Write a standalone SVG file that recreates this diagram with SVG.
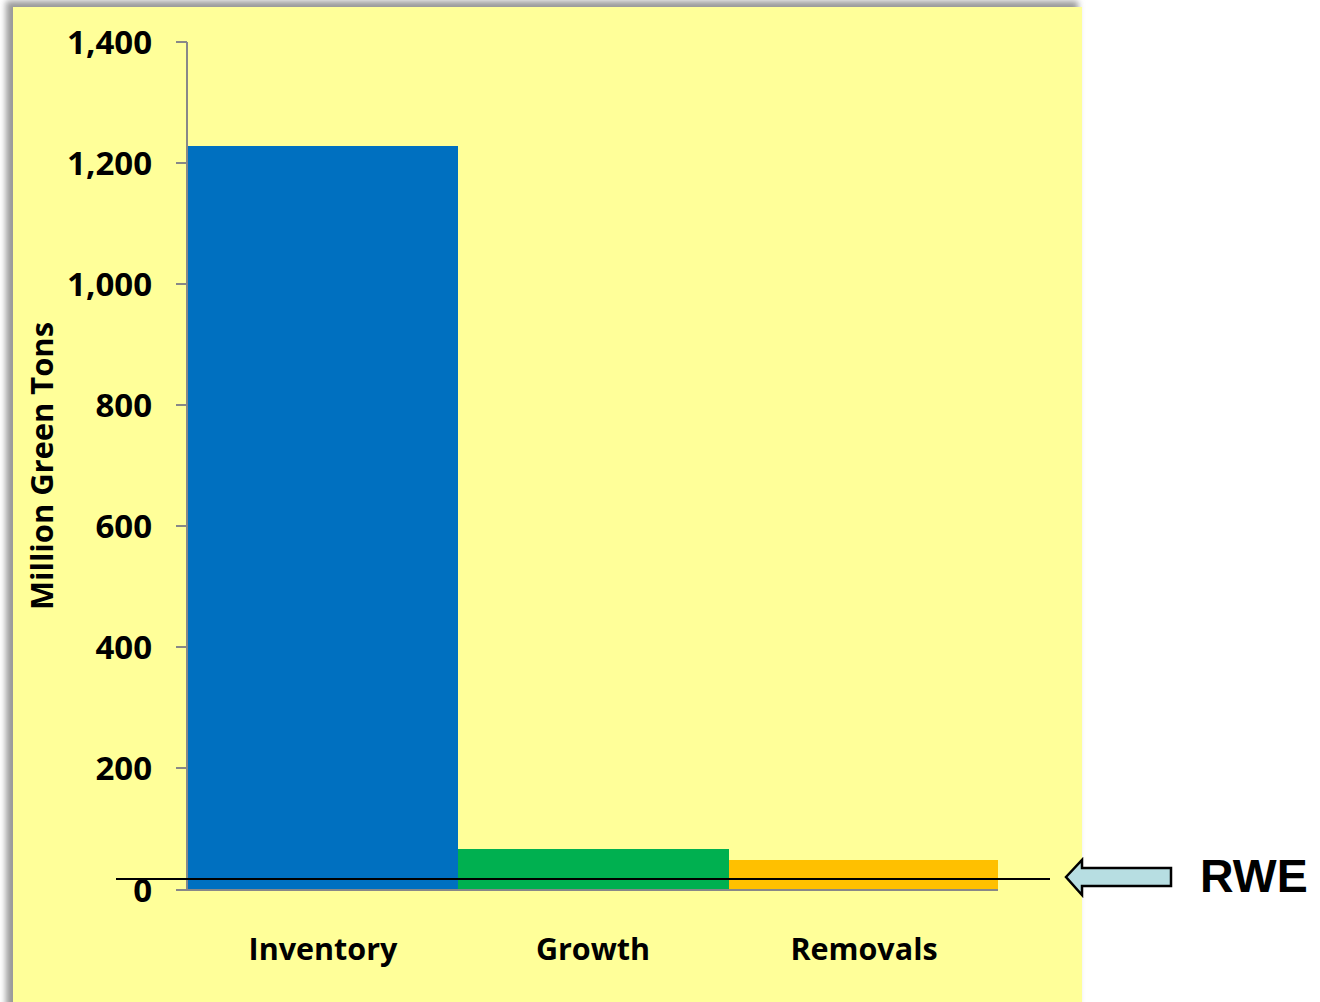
<svg xmlns="http://www.w3.org/2000/svg" width="1320" height="1002" viewBox="0 0 1320 1002">
<defs>
<filter id="sh" x="-5%" y="-5%" width="110%" height="110%"><feGaussianBlur stdDeviation="3"/></filter>
<style>
.t{font-family:"Open Sans","Liberation Sans",sans-serif;font-weight:bold;fill:#000}
.tick{stroke:#888;stroke-width:2}
</style>
</defs>
<rect width="1320" height="1002" fill="#fff"/>
<rect x="6" y="1" width="1072" height="1010" fill="#999" filter="url(#sh)"/>
<rect x="13" y="7" width="1069" height="995" fill="#FFFF99"/>
<g id="bars">
<rect id="inventory" x="188" y="146" width="270" height="744" fill="#0070C0"/>
<rect id="growth" x="458" y="849" width="271" height="41" fill="#00B050"/>
<rect id="removals" x="729" y="860" width="269" height="30" fill="#FFC000"/>
</g>
<g id="axis">
<line class="tick" x1="187" y1="42" x2="187" y2="890"/>
<line class="tick" x1="176" y1="890" x2="998" y2="890"/>
<line class="tick" x1="176" y1="42" x2="187" y2="42"/>
<line class="tick" x1="176" y1="163" x2="187" y2="163"/>
<line class="tick" x1="176" y1="284" x2="187" y2="284"/>
<line class="tick" x1="176" y1="405" x2="187" y2="405"/>
<line class="tick" x1="176" y1="526" x2="187" y2="526"/>
<line class="tick" x1="176" y1="647" x2="187" y2="647"/>
<line class="tick" x1="176" y1="768" x2="187" y2="768"/>
</g>
<g id="ticklabels" class="t" font-size="33" text-anchor="end">
<text x="152" y="54">1,400</text>
<text x="152" y="175">1,200</text>
<text x="152" y="296">1,000</text>
<text x="152" y="417">800</text>
<text x="152" y="538">600</text>
<text x="152" y="659">400</text>
<text x="152" y="780">200</text>
<text x="152" y="902">0</text>
</g>
<g id="catlabels" class="t" font-size="30.5" text-anchor="middle">
<text x="323" y="960">Inventory</text>
<text x="593" y="960">Growth</text>
<text x="864" y="960">Removals</text>
</g>
<text class="t" font-size="30" text-anchor="middle" transform="translate(53,466) rotate(-90)" textLength="288" lengthAdjust="spacingAndGlyphs">Million Green Tons</text>
<g id="connectors">
<line x1="116" y1="879" x2="1050" y2="879" stroke="#000" stroke-width="2"/>
<polygon id="rwe-arrow" points="1066,877 1082,860 1082,868 1171,868 1171,886 1082,886 1082,895" fill="#B7DEE2" stroke="#000" stroke-width="2.5" stroke-linejoin="miter"/>
</g>
<g id="rwe">
<text x="1200" y="892" font-family="Liberation Sans,Arial,sans-serif" font-weight="bold" font-size="46.5" fill="#000">RWE</text>
</g>
</svg>
